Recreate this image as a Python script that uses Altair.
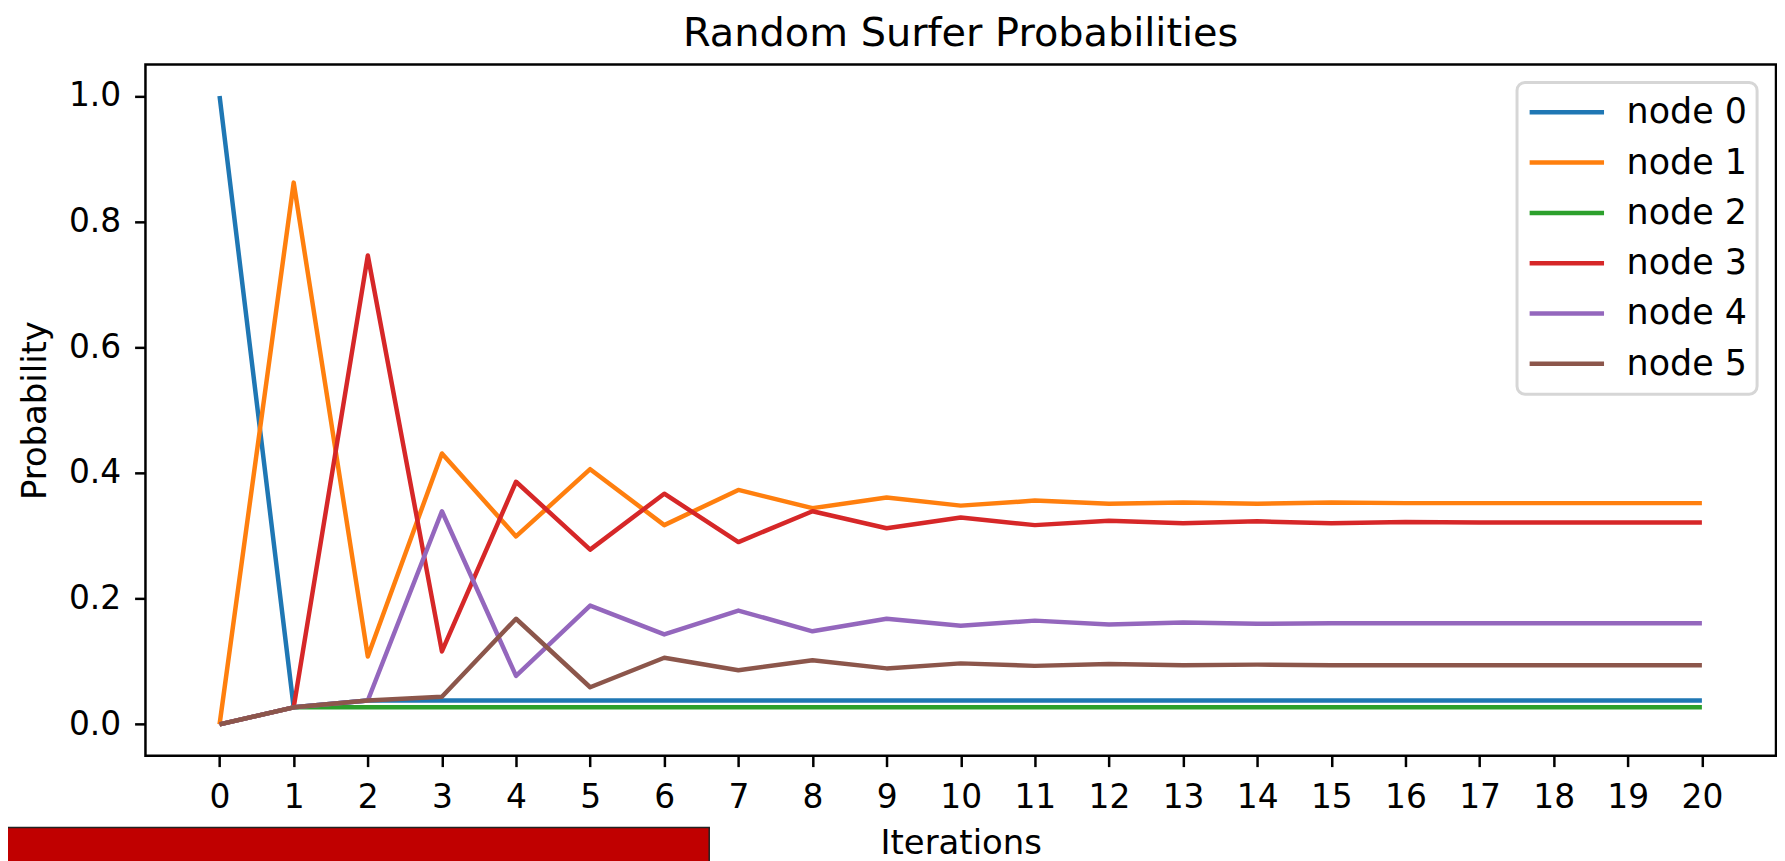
import altair as alt
import pandas as pd

# ---- data ----
iterations = list(range(21))
series_names = ["node 0", "node 1", "node 2", "node 3", "node 4", "node 5"]
node0 = [1.0, 0.027, 0.038, 0.038, 0.038, 0.038, 0.038, 0.038, 0.038, 0.038, 0.038,
         0.038, 0.038, 0.038, 0.038, 0.038, 0.038, 0.038, 0.038, 0.038, 0.038]
node1 = [0.0, 0.862, 0.108, 0.431, 0.299, 0.406, 0.317, 0.373, 0.344, 0.361, 0.348,
         0.356, 0.351, 0.353, 0.351, 0.353, 0.352, 0.352, 0.352, 0.352, 0.352]
node2 = [0.0, 0.027, 0.027, 0.027, 0.027, 0.027, 0.027, 0.027, 0.027, 0.027, 0.027,
         0.027, 0.027, 0.027, 0.027, 0.027, 0.027, 0.027, 0.027, 0.027, 0.027]
node3 = [0.0, 0.027, 0.746, 0.116, 0.386, 0.278, 0.367, 0.290, 0.339, 0.312, 0.329,
         0.317, 0.324, 0.320, 0.323, 0.320, 0.322, 0.321, 0.321, 0.321, 0.321]
node4 = [0.0, 0.027, 0.038, 0.339, 0.077, 0.189, 0.143, 0.181, 0.148, 0.168, 0.157,
         0.165, 0.159, 0.162, 0.160, 0.161, 0.161, 0.161, 0.161, 0.161, 0.161]
node5 = [0.0, 0.027, 0.038, 0.044, 0.168, 0.059, 0.106, 0.086, 0.102, 0.089, 0.097,
         0.093, 0.096, 0.094, 0.095, 0.094, 0.094, 0.094, 0.094, 0.094, 0.094]
y_ticks = [0.0, 0.2, 0.4, 0.6, 0.8, 1.0]
colors = ["#1f77b4", "#ff7f0e", "#2ca02c", "#d62728", "#9467bd", "#8c564b"]
chart_title = "Random Surfer Probabilities"

rows = []
for name, vals in zip(series_names, [node0, node1, node2, node3, node4, node5]):
    for it, v in zip(iterations, vals):
        rows.append({"Iterations": it, "Probability": v, "series": name})
df = pd.DataFrame(rows)

FONT = "DejaVu Sans"
PLOT_W = 1637
PLOT_H = 694

lines = alt.Chart(df).mark_line(strokeWidth=4.5, strokeJoin="round").encode(
    x=alt.X("Iterations:Q",
            scale=alt.Scale(domain=[-1, 21], nice=False, zero=False),
            axis=alt.Axis(values=iterations, format="d", title="Iterations",
                          labelFlush=False, labelOverlap=False, labelPadding=15,
                          titleBaseline="alphabetic", titleY=98)),
    y=alt.Y("Probability:Q",
            scale=alt.Scale(domain=[-0.05, 1.05], nice=False, zero=False),
            axis=alt.Axis(values=y_ticks, format=".1f", title="Probability",
                          labelPadding=14, titleBaseline="alphabetic",
                          titleX=-100, titleY=PLOT_H / 2)),
    color=alt.Color("series:N",
                    scale=alt.Scale(domain=series_names, range=colors),
                    legend=alt.Legend(title=None, orient="none", legendX=1377, legendY=18,
                                      symbolType="stroke", symbolSize=5580,
                                      symbolStrokeWidth=4.5, clipHeight=40, rowPadding=10.5,
                                      padding=10, labelOffset=20, labelFont=FONT,
                                      labelFontSize=35, labelColor="#000000",
                                      strokeColor="#d6d6d6", fillColor="#ffffff",
                                      cornerRadius=8)),
)

# chart title, centred over the plot area
title = alt.Chart(pd.DataFrame({"t": [chart_title]})).mark_text(
    font=FONT, fontSize=40, color="#000000", align="center", baseline="alphabetic"
).encode(text="t:N", x=alt.value(PLOT_W / 2), y=alt.value(-19))

# red overlay strip seen at the bottom-left of the reference
strip = alt.Chart(pd.DataFrame({"k": [0]})).mark_rect(
    color="#c00000", stroke="#222222", strokeWidth=1.5
).encode(x=alt.value(-140), x2=alt.value(566), y=alt.value(766), y2=alt.value(812))

chart = alt.layer(lines, title, strip).properties(
    width=PLOT_W,
    height=PLOT_H,
    autosize=alt.AutoSizeParams(type="none"),
    padding={"left": 138, "top": 55, "right": 1, "bottom": 112},
).configure_view(
    stroke="#000000", strokeWidth=2.5
).configure_axis(
    domain=False, grid=False, tickColor="#000000", tickWidth=2.5, tickSize=10.9,
    labelFont=FONT, labelFontSize=33, labelColor="#000000",
    titleFont=FONT, titleFontSize=34, titleFontWeight="normal", titleColor="#000000"
).configure_legend(
    strokeWidth=3
)

chart.save("out.html", embed_options={"renderer": "svg", "actions": False})
